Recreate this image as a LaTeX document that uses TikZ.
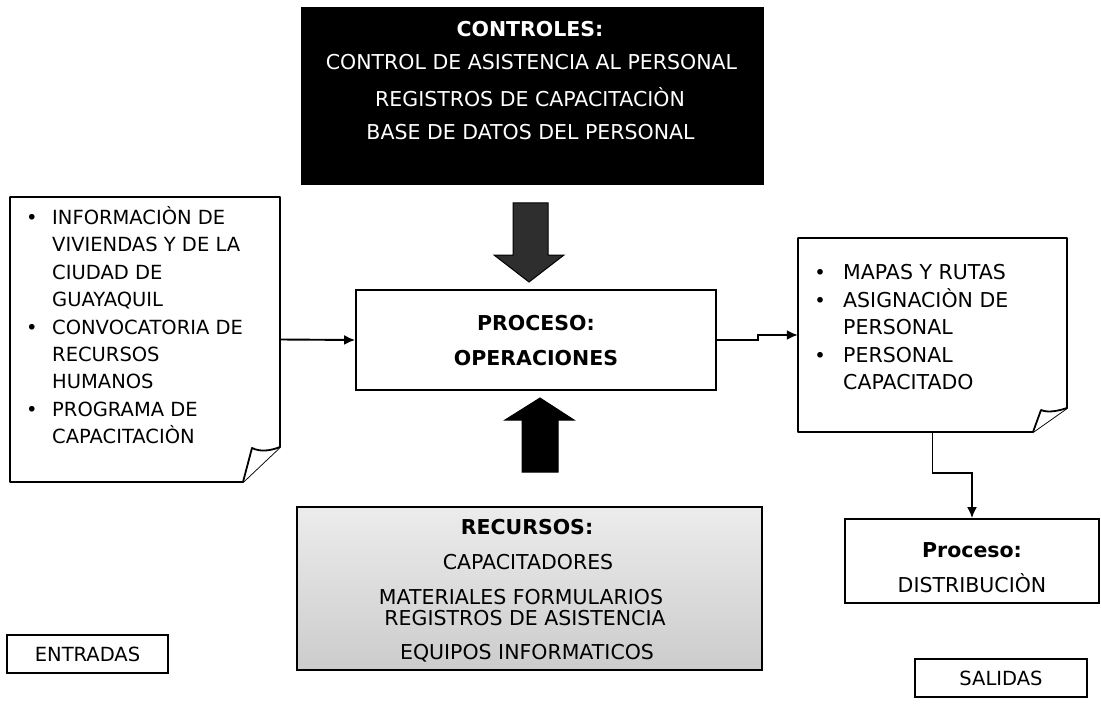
\documentclass[tikz,border=0pt]{standalone}
\usepackage{fontspec}
\setmainfont{DejaVu Sans}
\usetikzlibrary{arrows.meta}
\begin{document}
\begin{tikzpicture}[x=1pt,y=-1pt,
  box/.style={draw, line width=1.8pt, inner sep=0pt},
  docline/.style={draw, line width=1.8pt, fill=white, line join=round},
  conn/.style={line width=1.9pt, -{Latex[length=11pt,width=10pt]}},
  blockarrow/.style={draw=black, line width=1pt, line join=miter},
  txt/.style={inner sep=0pt, anchor=base, font=\fontsize{20.5}{24}\selectfont},
  btxt/.style={txt, font=\fontsize{20.5}{24}\selectfont\bfseries},
  ltxt/.style={inner sep=0pt, anchor=base west, font=\fontsize{19.5}{24}\selectfont},
  bul/.style={inner sep=0pt, anchor=base, font=\fontsize{19.5}{24}\selectfont},
  hole/.style={inner sep=0pt, draw=none}]
\useasboundingbox (0,0) rectangle (1101,706);

% controls box
\node[box, fill=black, minimum width=461pt, minimum height=177pt] (ctrl) at (532.5,96) {};
\node[btxt, text=white] (c1) at (530,36.5) {CONTROLES:};
\node[txt, text=white] (c2) at (531.5,69.5) {CONTROL DE ASISTENCIA AL PERSONAL};
\node[txt, text=white] (c3) at (530,106.5) {REGISTROS DE CAPACITACIÒN};
\node[txt, text=white] (c4) at (530.5,139.5) {BASE DE DATOS DEL PERSONAL};

% process box
\node[box, fill=white, minimum width=360pt, minimum height=100pt] (proc) at (536,340) {};
\node[btxt] (p1) at (536,330.5) {PROCESO:};
\node[btxt] (p2) at (536,365.5) {OPERACIONES};

% block arrows
\path[blockarrow, fill=black!82] (513,203) -- (548,203) -- (548,255) -- (564,255) -- (529,282) -- (494,255) -- (513,255) -- cycle;
\path[blockarrow, fill=black] (522,472) -- (558,472) -- (558,420) -- (574,420) -- (540,398) -- (505,420) -- (522,420) -- cycle;

% resources box
\node[box, top color=gray!15, middle color=gray!55, bottom color=gray!40, minimum width=465pt, minimum height=163pt] (res) at (529.5,588.5) {};
\node[btxt] (r1) at (527,534.5) {RECURSOS:};
\node[txt] (r2) at (528,569.5) {CAPACITADORES};
\node[txt] (r3) at (521,604.5) {MATERIALES FORMULARIOS};
\node[txt] (r4) at (525,625.5) {REGISTROS DE ASISTENCIA};
\node[txt] (r5) at (527,659.5) {EQUIPOS INFORMATICOS};

% input document
\path[docline] (10,197) -- (280,197) -- (280,447) -- (243,482) -- (10,482) -- cycle;
\path[docline] (243,482) -- (252,448) .. controls (260,452) and (270,451) .. (280,447);
\node[hole, minimum width=270pt, minimum height=285pt] (in) at (145,339.5) {};
\foreach \t [count=\i] in {INFORMACIÒN DE, VIVIENDAS  Y DE LA, CIUDAD DE, GUAYAQUIL, CONVOCATORIA DE, RECURSOS, HUMANOS, PROGRAMA DE, CAPACITACIÒN}
  \node[ltxt] (in\i) at (52,{224.5+27.4*(\i-1)}) {\t};
\foreach \k in {1,5,8}
  \node[bul] (inb\k) at (32,{224.5+27.4*(\k-1)}) {•};

% output document
\path[docline] (798,238) -- (1067,238) -- (1067,408) -- (1033,432) -- (798,432) -- cycle;
\path[docline] (1033,432) -- (1041,410) .. controls (1048,413) and (1058,411) .. (1067,408);
\node[hole, minimum width=269pt, minimum height=194pt] (out) at (932.5,335) {};
\foreach \t [count=\i] in {MAPAS Y RUTAS, ASIGNACIÒN DE, PERSONAL, PERSONAL, CAPACITADO}
  \node[ltxt, font=\fontsize{20.5}{24}\selectfont] (out\i) at (843,{279.5+27.5*(\i-1)}) {\t};
\foreach \k in {1,2,4}
  \node[bul] (outb\k) at (820,{279.5+27.5*(\k-1)}) {•};

% distribution box
\node[box, fill=white, minimum width=254pt, minimum height=84pt] (dist) at (972,561) {};
\node[btxt] (d1) at (972,557.5) {Proceso:};
\node[txt] (d2) at (972,592.5) {DISTRIBUCIÒN};

% labels
\node[box, minimum width=161pt, minimum height=38pt, font=\fontsize{19.5}{24}\selectfont] (ent) at (87.5,654) {ENTRADAS};
\node[box, minimum width=172pt, minimum height=38pt, font=\fontsize{19.5}{24}\selectfont] (sal) at (1001,678) {SALIDAS};

% connectors
\draw[conn] (in.east) -- (proc.west);
\draw[conn] (proc.east) -- ++(41,0) |- (out.west);
\draw[conn] (out.south) -- ++(0,41) -| (dist.north);
\end{tikzpicture}
\end{document}
